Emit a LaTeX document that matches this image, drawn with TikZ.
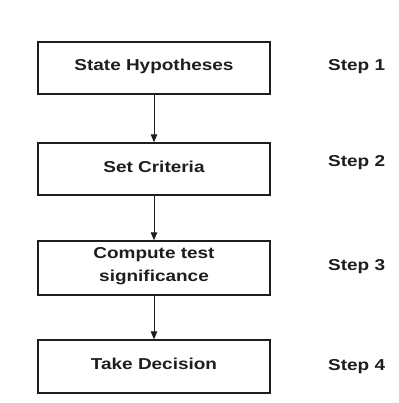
\documentclass[tikz,border=0pt]{standalone}
\usepackage{fontspec}
\newfontfamily\flowfont{Liberation Sans}[FakeStretch=1.2]
\usetikzlibrary{arrows.meta}
\definecolor{ink}{HTML}{1E1E1E}
\tikzset{
  stepbox/.style={draw=ink, line width=1.4pt, rectangle, minimum width=232pt,
    inner sep=0pt, font=\flowfont\bfseries\fontsize{15.8}{23.4}\selectfont,
    text=ink, text height=8pt},
  boxtext/.style={anchor=base, inner sep=0pt, text=ink,
    font=\flowfont\bfseries\fontsize{15.8}{23.4}\selectfont},
  steplabel/.style={anchor=base west, inner sep=0pt, text=ink,
    font=\flowfont\bfseries\fontsize{15.8}{19}\selectfont},
  flow/.style={draw=ink, line width=1pt, -{Triangle[length=8pt,width=6.5pt]}}
}
\begin{document}
\begin{tikzpicture}[x=1pt,y=-1pt]
  \useasboundingbox[fill=white] (0,0) rectangle (398,403);
  % process boxes
  \node[stepbox, minimum height=52pt, text depth=2.6pt] (s1) at (154,68) {State Hypotheses};
  \node[stepbox, minimum height=52pt, text depth=1.2pt] (s2) at (154,169) {Set Criteria};
  \node[stepbox, minimum height=54pt] (s3) at (154,268) {};
  \node[boxtext] (s3t) at (154,258.3)
    {\renewcommand\arraystretch{1}\setlength\tabcolsep{0pt}%
     \begin{tabular}[t]{c}Compute test\\significance\end{tabular}};
  \node[stepbox, minimum height=53pt, text depth=1.2pt] (s4) at (154,366.5) {Take Decision};
  % connectors
  \draw[flow] (s1.south) -- (s2.north);
  \draw[flow] (s2.south) -- (s3.north);
  \draw[flow] (s3.south) -- (s4.north);
  % step labels
  \node[steplabel] (l1) at (328,70.7) {Step 1};
  \node[steplabel] (l2) at (328,167) {Step 2};
  \node[steplabel] (l3) at (328,270) {Step 3};
  \node[steplabel] (l4) at (328,370.7) {Step 4};
\end{tikzpicture}
\end{document}
